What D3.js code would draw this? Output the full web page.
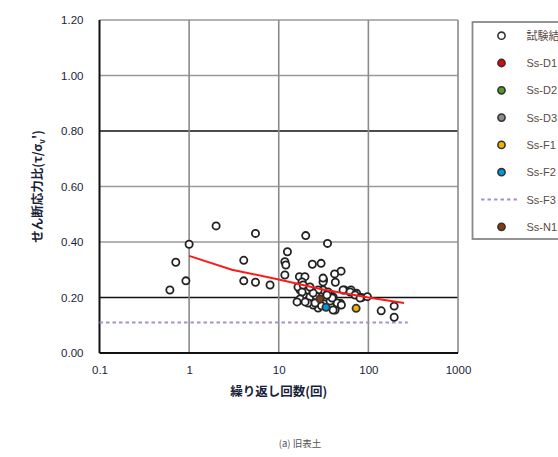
<!DOCTYPE html>
<html><head><meta charset="utf-8">
<script src="https://cdn.jsdelivr.net/npm/d3@7/dist/d3.min.js"></script>
<style>body{margin:0;background:#fff}svg{display:block}</style>
</head><body>
<svg id="c" width="558" height="457"></svg>
<script>
// ---- data ----
const xTicks = [0.1, 1, 10, 100, 1000];
const xTickLabels = ["0.1", "1", "10", "100", "1000"];
const yTicks = [0, 0.2, 0.4, 0.6, 0.8, 1.0, 1.2];
const yTickLabels = ["0.00", "0.20", "0.40", "0.60", "0.80", "1.00", "1.20"];
const darkGridY = [0.2, 0.8];
const testResults = [
  [0.61,0.227],[0.71,0.327],[0.92,0.26],[1.0,0.392],[2.0,0.458],[4.07,0.334],[4.07,0.26],
  [5.5,0.431],[5.5,0.255],[8.0,0.245],[20,0.423],[35,0.395],[12.5,0.365],[11.7,0.329],
  [12.0,0.317],[23.7,0.32],[29.7,0.323],[11.7,0.281],[17,0.275],[19.6,0.275],[49.6,0.295],
  [31.6,0.263],[42.8,0.255],[54,0.227],[64,0.227],[74,0.215],[84,0.2],[97.5,0.203],
  [139,0.152],[194,0.169],[194,0.129],
  [16.4,0.187],[17.3,0.227],[19.7,0.209],[21.2,0.227],[21.2,0.19],[24.2,0.195],[27.5,0.162],
  [31.2,0.227],[33.7,0.202],[37.4,0.213],[42.5,0.155],[44.8,0.18],[52.2,0.227],[62.5,0.22],
  [71.1,0.209],[80.8,0.198],[18.2,0.256],[31.2,0.256],[16.4,0.238],[18.2,0.22],
  [24.2,0.22],[27.5,0.227],[35.5,0.22],[17.3,0.195],[22.3,0.202],[24.2,0.173],[37.4,0.187],
  [40.4,0.202],[26.1,0.205],[21.2,0.18],[30,0.17],
  [25.4,0.18],[40.4,0.155],[19.7,0.184],[16,0.184],[39.4,0.198],[34.5,0.209],[24.2,0.216],
  [22.3,0.238],[18.7,0.245],[50,0.173],[31.2,0.27],[42,0.285]
];
const ssD1 = [[49,0.179]];
const ssD2 = [[47,0.173]];
const ssD3 = [[45,0.177]];
const ssF1 = [[73,0.161]];
const ssF2 = [[33.7,0.165]];
const ssN1 = [[28.9,0.195]];
const ssF3Line = [[0.1,0.11],[275,0.11]];
const fitLine = [[1,0.35],[3,0.30],[10,0.265],[30,0.23],[100,0.20],[250,0.18]];
const legendLabels = ["試験結果","Ss-D1","Ss-D2","Ss-D3","Ss-F1","Ss-F2","Ss-F3","Ss-N1"];
const legendColors = ["#fff","#e8000b","#4e9a2e","#8c8c8c","#f2b200","#0099dd",null,"#8b3b0c"];

// ---- chart ----
const svg = d3.select("#c");
const L = 99.5, R = 458, T = 20, B = 353;
const x = d3.scaleLog().domain([0.1, 1000]).range([L, R]);
const y = d3.scaleLinear().domain([0, 1.2]).range([B, T]);

// grid
const g = svg.append("g");
g.selectAll("line.gy").data(yTicks.filter(v => v > 0)).enter().append("line")
  .attr("x1", L).attr("x2", R).attr("y1", d => y(d)).attr("y2", d => y(d))
  .attr("stroke", d => darkGridY.some(v => Math.abs(v - d) < 1e-9) ? "#111" : "#9a9a9a")
  .attr("stroke-width", 1.6);
g.selectAll("line.gx").data(xTicks.slice(1)).enter().append("line")
  .attr("y1", T).attr("y2", B).attr("x1", d => x(d)).attr("x2", d => x(d))
  .attr("stroke", "#8a8a8a").attr("stroke-width", 1.6);

// axes
const xAxis = d3.axisBottom(x).tickValues(xTicks).tickFormat((d, i) => xTickLabels[i]).tickSize(0).tickPadding(13);
const yAxis = d3.axisLeft(y).tickValues(yTicks).tickFormat((d, i) => yTickLabels[i]).tickSize(0).tickPadding(16);
const gx = svg.append("g").attr("transform", `translate(0,${B})`).call(xAxis);
const gy = svg.append("g").attr("transform", `translate(${L},0)`).call(yAxis);
[gx, gy].forEach(a => {
  a.select(".domain").remove();
  a.selectAll("text").attr("font-family", "Liberation Sans, Arial, sans-serif")
    .attr("font-size", 11.5).attr("fill", "#1a1f3a");
});
svg.append("line").attr("x1", L).attr("x2", R).attr("y1", B).attr("y2", B).attr("stroke", "#111").attr("stroke-width", 2);
svg.append("line").attr("x1", L).attr("x2", L).attr("y1", T).attr("y2", B).attr("stroke", "#111").attr("stroke-width", 2);

// F3 dashed line
const line = d3.line().x(d => x(d[0])).y(d => y(d[1]));
svg.append("path").attr("d", line(ssF3Line)).attr("fill", "none")
  .attr("stroke", "#a58fd6").attr("stroke-width", 2.2).attr("stroke-dasharray", "3.5,3");

// markers
function pts(data, fill, stroke) {
  svg.append("g").selectAll("circle").data(data).enter().append("circle")
    .attr("cx", d => x(d[0])).attr("cy", d => y(d[1])).attr("r", 3.6)
    .attr("fill", fill).attr("stroke", stroke).attr("stroke-width", 1.8);
}
pts(ssD3, legendColors[3], "#333");
pts(ssD2, legendColors[2], "#333");
pts(ssD1, legendColors[1], "#333");
pts(testResults, "#fff", "#222");

// fit line
svg.append("path").attr("d", line(fitLine)).attr("fill", "none")
  .attr("stroke", "#ff1a1a").attr("stroke-width", 2);

pts(ssN1, legendColors[7], "#333");
pts(ssF2, legendColors[5], "#333");
pts(ssF1, legendColors[4], "#333");

// titles
svg.append("text").attr("x", (L + R) / 2).attr("y", 396).attr("text-anchor", "middle")
  .attr("font-family", "Noto Sans CJK JP, sans-serif").attr("font-weight", "bold")
  .attr("font-size", 12.5).attr("fill", "#1a1f3a").text("繰り返し回数(回)");
svg.append("text").attr("transform", `translate(42,${(T + B) / 2}) rotate(-90)`).attr("text-anchor", "middle")
  .attr("font-family", "Noto Sans CJK JP, sans-serif").attr("font-weight", "bold")
  .attr("font-size", 12.5).attr("fill", "#1a1f3a")
  .html("せん断応力比(τ/σ<tspan font-size='8' dy='3'>v</tspan><tspan dy='-3'>')</tspan>");
svg.append("text").attr("x", 300).attr("y", 447).attr("text-anchor", "middle")
  .attr("font-family", "Noto Sans CJK JP, sans-serif").attr("font-size", 9.5)
  .attr("fill", "#555").text("(a) 旧表土");

// legend
const lg = svg.append("g");
lg.append("rect").attr("x", 472.5).attr("y", 22).attr("width", 200).attr("height", 217)
  .attr("fill", "#fff").attr("stroke", "#888").attr("stroke-width", 1.8);
const rowY = i => 35.7 + i * 27.3;
legendLabels.forEach((lab, i) => {
  if (legendColors[i] === null) {
    lg.append("line").attr("x1", 481).attr("x2", 520).attr("y1", rowY(i)).attr("y2", rowY(i))
      .attr("stroke", "#a58fd6").attr("stroke-width", 2).attr("stroke-dasharray", "3.5,3");
  } else {
    lg.append("circle").attr("cx", 501.5).attr("cy", rowY(i)).attr("r", 3.6)
      .attr("fill", legendColors[i]).attr("stroke", "#333").attr("stroke-width", 1.6);
  }
  lg.append("text").attr("x", 526.5).attr("y", rowY(i) + 4)
    .attr("font-family", i === 0 ? "Noto Sans CJK JP, sans-serif" : "Liberation Sans, Arial, sans-serif")
    .attr("font-size", 11).attr("fill", "#5a4a44").text(lab);
});
</script>
</body></html>
